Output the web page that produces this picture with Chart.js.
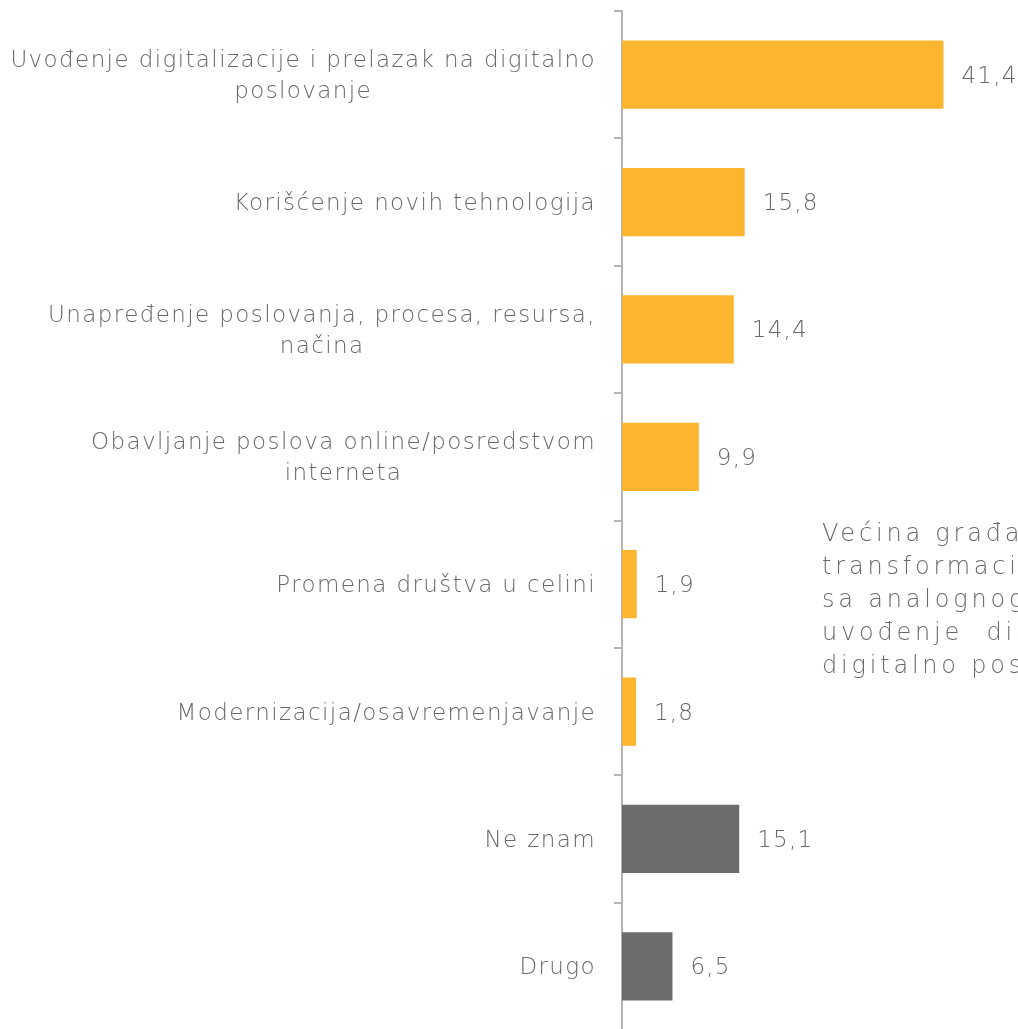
<!DOCTYPE html>
<html>
<head>
<meta charset="utf-8">
<script src="https://cdn.jsdelivr.net/npm/chart.js@4.4.1/dist/chart.umd.min.js"></script>
<style>
  html, body { margin: 0; padding: 0; background: #fff; overflow: hidden; }
  #wrap { position: relative; width: 1018px; height: 1029px; overflow: hidden; }
  #box { position: absolute; left: 0; top: 0; width: 1018px; height: 1030px; }
  #note {
    position: absolute; left: 822px; top: 517px; width: 500px;
    font-family: "DejaVu Sans", sans-serif; font-weight: 200; font-size: 24px;
    letter-spacing: 3.8px; line-height: 33px; color: #686868; white-space: nowrap;
  }
  #note .siroko { word-spacing: 12px; }
</style>
</head>
<body>
<div id="wrap">
  <div id="box"><canvas id="myChart"></canvas></div>
  <div id="note">Većina građana<br>transformaciju<br>sa analognog<br><span class="siroko">uvođenje digitalizacije</span><br>digitalno poslovanje</div>
</div>
<script>
// kategorije i vrednosti (%)
const kategorije = [
    ['Uvođenje digitalizacije i prelazak na digitalno', 'poslovanje'],
    ['Korišćenje novih tehnologija'],
    ['Unapređenje poslovanja, procesa, resursa,', 'načina'],
    ['Obavljanje poslova online/posredstvom', 'interneta'],
    ['Promena društva u celini'],
    ['Modernizacija/osavremenjavanje'],
    ['Ne znam'],
    ['Drugo']
];
const vrednosti = [41.4, 15.8, 14.4, 9.9, 1.9, 1.8, 15.1, 6.5];
const boje = ['#FBB52E', '#FBB52E', '#FBB52E', '#FBB52E', '#FBB52E', '#FBB52E', '#6E6B6D', '#6E6B6D'];

const fontFamily = '"DejaVu Sans", sans-serif';
const bojaTeksta = '#686868';

// Nazivi kategorija: blok poravnat desno, redovi centrirani u bloku
const naziviPlugin = {
    id: 'naziviPlugin',
    afterDraw(chart) {
        const ctx = chart.ctx;
        const yScale = chart.scales.y;
        const desno = yScale.right - 8 - 18;
        const visinaReda = 31;
        ctx.save();
        ctx.letterSpacing = '1.4px';
        ctx.font = '200 23px ' + fontFamily;
        ctx.fillStyle = bojaTeksta;
        ctx.textAlign = 'center';
        ctx.textBaseline = 'middle';
        kategorije.forEach((redovi, i) => {
            const sirina = Math.max(...redovi.map(r => ctx.measureText(r).width));
            const centarX = desno - sirina / 2;
            const centarY = yScale.getPixelForValue(i) + 2;
            const pocetak = centarY - (redovi.length - 1) * visinaReda / 2;
            redovi.forEach((red, j) => {
                ctx.fillText(red, centarX, pocetak + j * visinaReda);
            });
        });
        ctx.restore();
    }
};

// Plugin za ispis vrednosti pored stubića
const vrednostiPlugin = {
    id: 'vrednostiPlugin',
    afterDatasetsDraw(chart) {
        const ctx = chart.ctx;
        const meta = chart.getDatasetMeta(0);
        ctx.save();
        ctx.letterSpacing = '1.2px';
        ctx.font = '200 23px ' + fontFamily;
        ctx.fillStyle = bojaTeksta;
        ctx.textAlign = 'left';
        ctx.textBaseline = 'middle';
        meta.data.forEach((bar, i) => {
            const tekst = vrednosti[i].toFixed(1).replace('.', ',');
            ctx.fillText(tekst, bar.x + 18, bar.y + 2);
        });
        ctx.restore();
    }
};

const config = {
    type: 'bar',
    data: {
        labels: kategorije.map(r => r.join(' ')),
        datasets: [{
            data: vrednosti,
            backgroundColor: boje,
            borderWidth: 0,
            categoryPercentage: 1,
            barPercentage: 0.535
        }]
    },
    options: {
        indexAxis: 'y',
        responsive: true,
        maintainAspectRatio: false,
        animation: false,
        layout: { padding: { top: 11, right: 0, bottom: 0, left: 0 } },
        plugins: {
            legend: { display: false },
            tooltip: { enabled: false }
        },
        scales: {
            x: {
                display: false,
                min: 0,
                max: 51
            },
            y: {
                afterFit(scale) {
                    scale.width = 622;
                    scale.paddingTop = 0;
                    scale.paddingBottom = 0;
                },
                grid: {
                    offset: true,
                    drawOnChartArea: false,
                    drawTicks: true,
                    tickLength: 8,
                    color: '#b3b3b3',
                    lineWidth: 2
                },
                border: { display: true, color: '#b3b3b3', width: 2 },
                ticks: { display: false }
            }
        }
    },
    plugins: [naziviPlugin, vrednostiPlugin]
};

const ctx = document.getElementById('myChart');
const myChart = new Chart(ctx, config);
</script>
</body>
</html>
